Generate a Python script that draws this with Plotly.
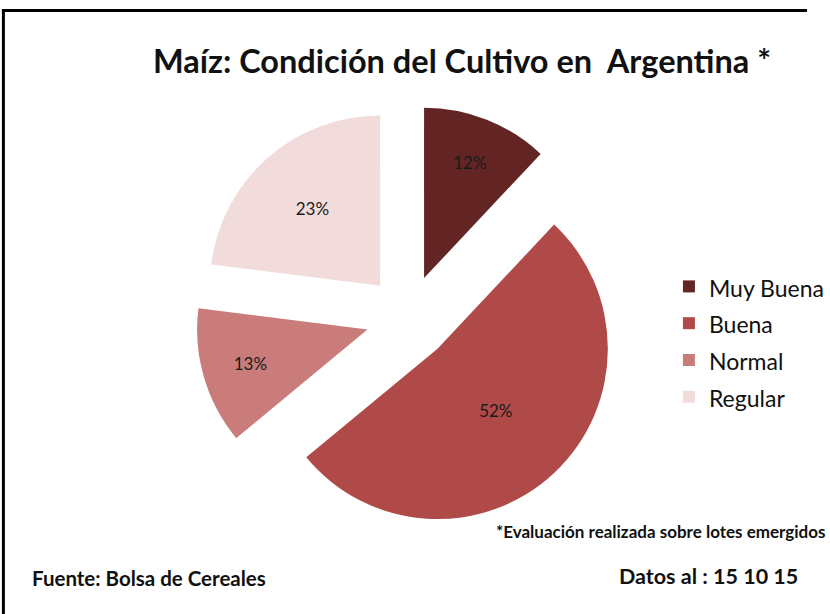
import plotly.graph_objects as go

categories = ["Muy Buena", "Buena", "Normal", "Regular"]
values = [12, 52, 13, 23]
colors = ["#632523", "#B04A48", "#C97C7A", "#F2DCDB"]
pulls = [0.25, 0.25, 0.25, 0.25]

FONT = "Lato"
W, H = 830, 614

legend_labels = ['<span style="font-size:23px">%s</span>' % c for c in categories]

fig = go.Figure(go.Pie(
    labels=legend_labels,
    values=values,
    sort=False,
    direction="clockwise",
    rotation=0,
    pull=pulls,
    marker=dict(colors=colors, line=dict(width=0)),
    texttemplate="%{value}%",
    textposition="inside",
    insidetextorientation="horizontal",
    textfont=dict(family=FONT, size=17, color="#1a1a1a"),
    hoverinfo="skip",
    domain=dict(x=[201 / W, 639 / W], y=[1 - 536.7 / H, 1 - 98.7 / H]),
))

fig.update_layout(
    width=W, height=H,
    margin=dict(l=0, r=0, t=0, b=0),
    paper_bgcolor="white",
    plot_bgcolor="white",
    font=dict(family=FONT, color="#111111"),
    title=dict(
        text="<b>Maíz: Condición del Cultivo en  Argentina *</b>",
        x=462 / W, xanchor="center",
        y=1 - 62 / H, yanchor="middle",
        font=dict(family=FONT, size=32.5, color="#111111"),
    ),
    legend=dict(
        x=688 / W, xanchor="left",
        y=1 - 342 / H, yanchor="middle",
        font=dict(family=FONT, size=26, color="#111111"),
        bgcolor="rgba(0,0,0,0)",
    ),
    annotations=[
        dict(text="<b>*Evaluación realizada sobre lotes emergidos</b>",
             x=508 / W, y=1 - 531 / H, xref="paper", yref="paper",
             xanchor="left", yanchor="middle", showarrow=False,
             font=dict(family=FONT, size=17, color="#111111")),
        dict(text="<b>Fuente: Bolsa de Cereales</b>",
             x=31 / W, y=1 - 578 / H, xref="paper", yref="paper",
             xanchor="left", yanchor="middle", showarrow=False,
             font=dict(family=FONT, size=20.5, color="#111111")),
        dict(text="<b>Datos al : 15 10 15</b>",
             x=635 / W, y=1 - 576 / H, xref="paper", yref="paper",
             xanchor="left", yanchor="middle", showarrow=False,
             font=dict(family=FONT, size=21.5, color="#111111")),
    ],
    shapes=[
        dict(type="line", xref="paper", yref="paper",
             x0=2 / W, x1=1, y0=1 - 10.5 / H, y1=1 - 10.5 / H,
             line=dict(color="black", width=3)),
        dict(type="line", xref="paper", yref="paper",
             x0=3.5 / W, x1=3.5 / W, y0=1 - 9 / H, y1=0,
             line=dict(color="black", width=3)),
    ],
)

fig.write_html("out.html", config={"displayModeBar": False},
               post_script="document.body.style.margin='0';document.body.style.overflow='hidden';")
